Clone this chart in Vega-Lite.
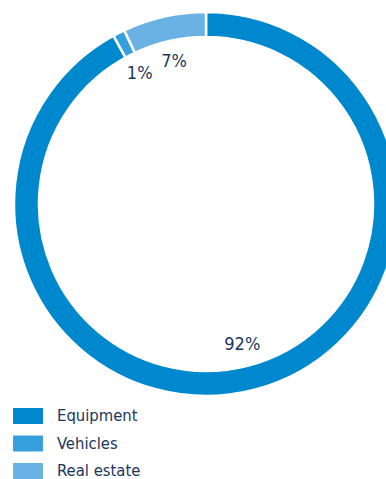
{
  "$schema": "https://vega.github.io/schema/vega-lite/v6.json",
  "width": 386,
  "height": 479,
  "padding": 0,
  "autosize": {"type": "none"},
  "background": "white",
  "config": {"view": {"stroke": null}, "font": "DejaVu Sans Condensed, Roboto, sans-serif"},
  "data": {
    "values": [
      {"category": "Equipment", "share": 92, "label": "92%", "rank": 1},
      {"category": "Vehicles", "share": 1, "label": "1%", "rank": 2},
      {"category": "Real estate", "share": 7, "label": "7%", "rank": 3}
    ]
  },
  "encoding": {
    "theta": {"field": "share", "type": "quantitative", "stack": true},
    "order": {"field": "rank", "type": "quantitative"},
    "color": {
      "field": "category",
      "type": "nominal",
      "scale": {
        "domain": ["Equipment", "Vehicles", "Real estate"],
        "range": ["#0088cf", "#35a0dd", "#6ab2e4"]
      },
      "legend": {
        "title": null,
        "orient": "none",
        "legendX": 15,
        "legendY": 403,
        "padding": 0,
        "symbolType": "M-1.15,-0.615H1.15V0.615H-1.15Z",
        "symbolSize": 676,
        "symbolStrokeWidth": 0,
        "symbolOpacity": 1,
        "rowPadding": 5.5,
        "labelOffset": 16,
        "labelFont": "DejaVu Sans Condensed, Roboto, sans-serif",
        "labelFontSize": 16.5,
        "labelColor": "#1b365d",
        "labelLimit": 300
      }
    }
  },
  "layer": [
    {
      "mark": {
        "type": "arc",
        "x": 206,
        "y": 204,
        "outerRadius": 192,
        "innerRadius": 167,
        "stroke": "white",
        "strokeWidth": 2.5
      }
    },
    {
      "mark": {
        "type": "text",
        "x": 206,
        "y": 204,
        "radius": 146,
        "font": "DejaVu Sans Condensed, Roboto, sans-serif",
        "fontSize": 18,
        "color": "#1b365d"
      },
      "encoding": {
        "text": {"field": "label"},
        "color": {"value": "#1b365d"}
      }
    }
  ]
}
